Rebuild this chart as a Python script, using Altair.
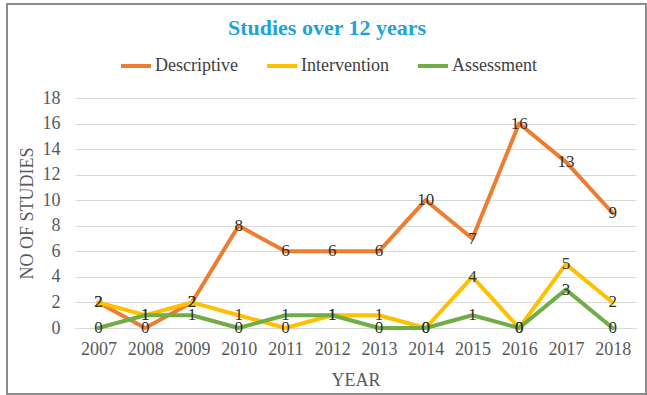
import altair as alt
import pandas as pd

chart_title = "Studies over 12 years"
years = ["2007", "2008", "2009", "2010", "2011", "2012", "2013", "2014", "2015", "2016", "2017", "2018"]
descriptive = [2, 0, 2, 8, 6, 6, 6, 10, 7, 16, 13, 9]
intervention = [2, 1, 2, 1, 0, 1, 1, 0, 4, 0, 5, 2]
assessment = [0, 1, 1, 0, 1, 1, 0, 0, 1, 0, 3, 0]
series_names = ["Descriptive", "Intervention", "Assessment"]
series_colors = ["#ED7D31", "#FFC000", "#70AD47"]
y_ticks = [0, 2, 4, 6, 8, 10, 12, 14, 16, 18]

rows = []
for order, (name, vals) in enumerate(zip(series_names, [descriptive, intervention, assessment])):
    for y, v in zip(years, vals):
        rows.append({"Year": y, "Studies": v, "Series": name, "order": order})
df = pd.DataFrame(rows)

FONT = "Times New Roman, Liberation Serif, serif"

base = alt.Chart(df).encode(
    x=alt.X("Year:N", sort=years,
            scale=alt.Scale(type="point", padding=0.5),
            axis=alt.Axis(title="YEAR", labelAngle=0, grid=False, ticks=False,
                          domain=True, domainColor="#d9d9d9", domainWidth=1,
                          labelPadding=12, titlePadding=13)),
    y=alt.Y("Studies:Q", scale=alt.Scale(domain=[0, 18], nice=False),
            axis=alt.Axis(title="NO OF STUDIES", values=y_ticks, grid=True,
                          gridColor="#d9d9d9", ticks=False, domain=False,
                          labelPadding=15, titlePadding=6)),
)

lines = base.mark_line(strokeWidth=4, strokeJoin="round", strokeCap="round").encode(
    color=alt.Color("Series:N", sort=series_names,
                    scale=alt.Scale(domain=series_names, range=series_colors),
                    legend=alt.Legend(title=None, orient="none", direction="horizontal",
                                      legendX=44, legendY=-49, symbolType="stroke",
                                      symbolSize=900, symbolStrokeWidth=4,
                                      labelFont=FONT, labelFontSize=18, labelColor="#404040",
                                      columnPadding=21, symbolOffset=0, labelOffset=2)),
    order="order:Q",
)

labels = base.mark_text(font=FONT, fontSize=17, color="#303030", baseline="middle", align="center").encode(
    text="Studies:Q",
    detail="Series:N",
)

border = alt.Chart(df).mark_rect(fill=None, stroke="#8c8c8c", strokeWidth=2).encode(
    x=alt.value(-68), x2=alt.value(571), y=alt.value(-94), y2=alt.value(296)
)

title_df = pd.DataFrame({"t": [chart_title]})
title = alt.Chart(title_df).mark_text(font=FONT, fontSize=22, fontWeight="bold", color="#1FA2DC",
                                      align="center", baseline="middle").encode(
    text="t:N", x=alt.value(252), y=alt.value(-70)
)

chart = alt.layer(border, lines, labels, title).properties(
    width=561, height=230,
    autosize=alt.AutoSizeParams(type="none"),
    padding={"left": 75, "top": 98, "right": 11, "bottom": 67},
).configure_axis(
    labelFont=FONT, labelFontSize=18, labelColor="#595959",
    titleFont=FONT, titleFontSize=18, titleColor="#595959", titleFontWeight="normal",
).configure_view(stroke=None)

chart.save("out.html", embed_options={"renderer": "svg", "actions": False})
